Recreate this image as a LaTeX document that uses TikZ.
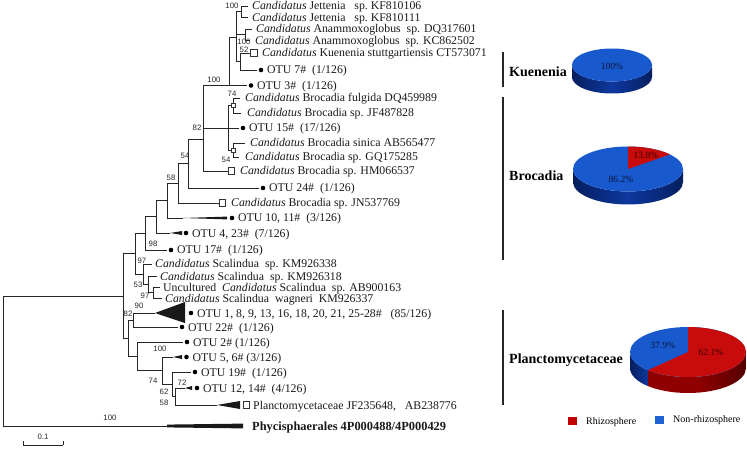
\documentclass[tikz,border=0pt]{standalone}
\usepackage{fontspec}
\setmainfont{Liberation Serif}
\newfontfamily\arialf{Liberation Sans}
\definecolor{btop}{RGB}{24,90,205}
\definecolor{bside}{RGB}{14,56,158}
\definecolor{bsided}{RGB}{6,30,95}
\definecolor{rtop}{RGB}{200,12,12}
\definecolor{rside}{RGB}{145,0,0}
\definecolor{rsided}{RGB}{85,0,0}
\definecolor{legred}{RGB}{192,0,0}
\definecolor{legblue}{RGB}{30,100,210}
\begin{document}
\begin{tikzpicture}[x=1pt,y=-1pt,
 br/.style={draw=black!85, line width=0.7pt},
 wdg/.style={fill=black!90},
 lf/.style={anchor=base west, inner sep=0pt, font=\fontsize{11.8}{13}\selectfont, text=black!90},
 supp/.style={inner sep=0pt, font=\arialf\fontsize{7.8}{8}\selectfont, text=black!85},
 dotm/.style={circle, fill=black, inner sep=0pt, minimum size=4.6pt},
 boxm/.style={rectangle, draw=black!80, fill=white, line width=0.6pt, inner sep=0pt, minimum size=6.5pt},
 nbox/.style={rectangle, draw=black!80, fill=white, line width=0.5pt, inner sep=0pt, minimum size=4pt},
 grp/.style={anchor=west, inner sep=0pt, font=\fontsize{14}{16}\selectfont\bfseries},
 gbar/.style={draw=black!85, line width=1.6pt},
 pctb/.style={inner sep=0pt, font=\fontsize{9.5}{10}\selectfont, text={rgb,255:red,10;green,20;blue,60}},
 pctr/.style={inner sep=0pt, font=\fontsize{9.5}{10}\selectfont, text={rgb,255:red,60;green,0;blue,0}},
 leg/.style={anchor=west, inner sep=0pt, font=\fontsize{10}{11}\selectfont}
]
\useasboundingbox (0,0) rectangle (747,449);
% ---------- tips
\coordinate (t1) at (248,6);
\coordinate (t2) at (248,17.5);
\coordinate (t3) at (252,29);
\coordinate (t4) at (250,40.5);
\coordinate (t5) at (250,53);
\coordinate (t6) at (257,70);
\coordinate (t7) at (247,85.5);
\coordinate (t8) at (240,98);
\coordinate (t9) at (241,113);
\coordinate (t10) at (239,128);
\coordinate (t11) at (245,143);
\coordinate (t12) at (239,157);
\coordinate (t13) at (227.5,171);
\coordinate (t14) at (259,188);
\coordinate (t15) at (218.5,203);
\coordinate (t16) at (183,218);
\coordinate (t17) at (170,233);
\coordinate (t18) at (167,250);
\coordinate (t19) at (152,264);
\coordinate (t20) at (157,276);
\coordinate (t21) at (160,287);
\coordinate (t22) at (162,298);
\coordinate (t23) at (155,313);
\coordinate (t24) at (178,327);
\coordinate (t25) at (183,342);
\coordinate (t26) at (173,357);
\coordinate (t27) at (191,372);
\coordinate (t28) at (185,388);
\coordinate (t29) at (217,405);
\coordinate (t30) at (167,426);
% ---------- internal nodes
\coordinate (J) at (241,11.75);
\coordinate (A) at (245,34.75);
\coordinate (K2) at (240,61.5);
\coordinate (K1) at (236,37);
\coordinate (KC) at (229,85.5);
\coordinate (Bc) at (228,128);
\coordinate (B1) at (233,105.5);
\coordinate (B2) at (233,150);
\coordinate (Y) at (203,107);
\coordinate (X) at (203,139);
\coordinate (N54) at (188,163.5);
\coordinate (N58) at (178,183.25);
\coordinate (N167) at (167,200.6);
\coordinate (N155) at (156,216.8);
\coordinate (N145) at (145,233.4);
\coordinate (S3) at (153,292.5);
\coordinate (S2) at (148,284.25);
\coordinate (S) at (143,274);
\coordinate (U) at (135,253.7);
\coordinate (N82) at (133,320);
\coordinate (P5) at (175,396.5);
\coordinate (P4) at (172,384.25);
\coordinate (P3) at (162,370.6);
\coordinate (P2) at (137,356.3);
\coordinate (P1) at (128,338.2);
\coordinate (I) at (123,296);
\coordinate (R) at (3,361);
% ---------- branches
\foreach \p/\a/\b/\kids in {J/t1/t2/{t1,t2}, A/t3/t4/{t3,t4}, K2/t5/t6/{t5,t6},
  K1/J/K2/{J,A,K2}, KC/K1/t7/{K1,t7}, B1/t8/t9/{t8,t9}, B2/t11/t12/{t11,t12},
  Bc/B1/B2/{B1,t10,B2}, Y/KC/Bc/{KC,Bc}, X/Y/t13/{Y,t13}, N54/X/t14/{X,t14},
  N58/N54/t15/{N54,t15}, N167/N58/t16/{N58,t16}, N155/N167/t17/{N167,t17},
  N145/N155/t18/{N155,t18}, S3/t21/t22/{t21,t22}, S2/t20/S3/{t20,S3},
  S/t19/S2/{t19,S2}, U/N145/S/{N145,S}, N82/t23/t24/{t23,t24},
  P5/t28/t29/{t28,t29}, P4/t27/P5/{t27,P5}, P3/t26/P4/{t26,P4},
  P2/t25/P3/{t25,P3}, P1/N82/P2/{N82,P2}, I/U/P1/{U,P1}, R/I/t30/{I,t30}}{
  \draw[br] (\a -| \p) -- (\b -| \p);
  \foreach \c in \kids {\draw[br] (\c -| \p) -- (\c);}
}
% ---------- collapsed wedges
\fill[wdg] (t16) -- (227,216.6) -- (227,219.4) -- cycle;
\fill[wdg] (t17) -- (182,231) -- (182,235) -- cycle;
\fill[wdg] (t23) -- (185,302) -- (185,323) -- cycle;
\fill[wdg] (t26) -- (182,355) -- (182,359) -- cycle;
\fill[wdg] (t28) -- (192,386) -- (192,390) -- cycle;
\fill[wdg] (t29) -- (240,401) -- (240,409) -- cycle;
\fill[wdg] (t30) -- (167,424.6) -- (243,423.6) -- (243,428.4) -- (167,427.4) -- cycle;
% node boxes
\node[nbox] (nb1) at (B1) {};
\node[nbox] (nb2) at (B2) {};
% ---------- leaf markers and labels
\node[lf] (L1) at (252,10) {\textit{Candidatus} Jettenia\ \ \ sp.\ KF810106};
\node[lf] (L2) at (252,21.5) {\textit{Candidatus} Jettenia\ \ \ sp.\ KF810111};
\node[lf] (L3) at (256,33) {\textit{Candidatus} Anammoxoglobus\ \ sp. DQ317601};
\node[lf] (L4) at (255,44.5) {\textit{Candidatus} Anammoxoglobus\ \ sp. KC862502};
\node[boxm] (m5) at (254,53) {};
\node[lf] (L5) at (262,57) {\textit{Candidatus} Kuenenia stuttgartiensis CT573071};
\node[dotm] (m6) at (261,70) {};
\node[lf] (L6) at (267,74) {OTU 7\#\ \ (1/126)};
\node[dotm] (m7) at (251,85.5) {};
\node[lf] (L7) at (257,89.5) {OTU 3\#\ \ (1/126)};
\node[lf] (L8) at (245,102) {\textit{Candidatus} Brocadia fulgida DQ459989};
\node[lf] (L9) at (247,117) {\textit{Candidatus} Brocadia sp. JF487828};
\node[dotm] (m10) at (243,128) {};
\node[lf] (L10) at (249,132) {OTU 15\#\ \ (17/126)};
\node[lf] (L11) at (250,147) {\textit{Candidatus} Brocadia sinica AB565477};
\node[lf] (L12) at (245,161) {\textit{Candidatus} Brocadia sp. GQ175285};
\node[boxm] (m13) at (231.5,171) {};
\node[lf] (L13) at (240,175) {\textit{Candidatus} Brocadia sp. HM066537};
\node[dotm] (m14) at (263,188) {};
\node[lf] (L14) at (269,192) {OTU 24\#\ \ (1/126)};
\node[boxm] (m15) at (222.5,203) {};
\node[lf] (L15) at (231,207) {\textit{Candidatus} Brocadia sp. JN537769};
\node[dotm] (m16) at (232,218) {};
\node[lf] (L16) at (238,222) {OTU 10, 11\#\ \ (3/126)};
\node[dotm] (m17) at (186,233) {};
\node[lf] (L17) at (192,237) {OTU 4, 23\#\ \ (7/126)};
\node[dotm] (m18) at (171,250) {};
\node[lf] (L18) at (177,254) {OTU 17\#\ \ (1/126)};
\node[lf] (L19) at (155,268) {\textit{Candidatus} Scalindua\ \ sp. KM926338};
\node[lf] (L20) at (160,280) {\textit{Candidatus} Scalindua\ \ sp. KM926318};
\node[lf] (L21) at (163,291) {Uncultured\ \ \textit{Candidatus} Scalindua\ \ sp. AB900163};
\node[lf] (L22) at (165,302) {\textit{Candidatus} Scalindua\ \ wagneri\ \ KM926337};
\node[dotm] (m23) at (191,313) {};
\node[lf] (L23) at (197,317) {OTU 1, 8, 9, 13, 16, 18, 20, 21, 25-28\#\ \ \ (85/126)};
\node[dotm] (m24) at (182,327) {};
\node[lf] (L24) at (188,331) {OTU 22\#\ \ (1/126)};
\node[dotm] (m25) at (187,342) {};
\node[lf] (L25) at (193,346) {OTU 2\# (1/126)};
\node[dotm] (m26) at (186.5,357) {};
\node[lf] (L26) at (192.5,361) {OTU 5, 6\# (3/126)};
\node[dotm] (m27) at (195,372) {};
\node[lf] (L27) at (201,376) {OTU 19\#\ \ (1/126)};
\node[dotm] (m28) at (197,388) {};
\node[lf] (L28) at (203,392) {OTU 12, 14\#\ \ (4/126)};
\node[boxm] (m29) at (246.5,405) {};
\node[lf] (L29) at (253,409) {Planctomycetaceae JF235648,\ \ \ AB238776};
\node[lf, font=\fontsize{12.4}{13}\selectfont\bfseries] (L30) at (252,430) {Phycisphaerales 4P000488/4P000429};
% ---------- support values
\node[supp] (s1) at (232,6) {100};
\node[supp] (s2) at (244,42) {100};
\node[supp] (s3) at (244,50) {52};
\node[supp] (s4) at (214,80) {100};
\node[supp] (s5) at (232,94) {74};
\node[supp] (s6) at (226,160) {54};
\node[supp] (s7) at (197,128) {82};
\node[supp] (s8) at (185,156) {54};
\node[supp] (s9) at (171,178) {58};
\node[supp] (s10) at (153,244) {98};
\node[supp] (s11) at (142,261) {97};
\node[supp] (s12) at (138,285) {53};
\node[supp] (s13) at (145,296) {97};
\node[supp] (s14) at (139,306) {90};
\node[supp] (s15) at (128,314) {82};
\node[supp] (s16) at (160,349) {100};
\node[supp] (s17) at (153,381) {74};
\node[supp] (s18) at (182,383) {72};
\node[supp] (s19) at (164,392) {62};
\node[supp] (s20) at (164,403) {58};
\node[supp] (s21) at (110,418) {100};
% ---------- scale bar
\coordinate (sb1) at (23,445);
\coordinate (sb2) at (63,445);
\draw[br] (sb1) -- (sb2);
\draw[br] (sb1) -- ++(0,-4);
\draw[br] (sb2) -- ++(0,-4);
\node[supp] (sbl) at (43,437) {0.1};
% ---------- group bars and labels
\draw[gbar] (503,52) -- (503,87);
\draw[gbar] (503,97) -- (503,260);
\draw[gbar] (503,310) -- (503,405);
\node[grp] (gK) at (509,72) {Kuenenia};
\node[grp] (gB) at (509,176) {Brocadia};
\node[grp] (gP) at (509,360) {Planctomycetaceae};
% ---------- pie: Kuenenia
\begin{scope}[shift={(612,65)}, y=1pt]
 \shade[left color=bsided, right color=bsided, middle color=bside] (-40,0) arc[start angle=180,end angle=360,x radius=40,y radius=16.5] -- (40,-12) arc[start angle=0,end angle=-180,x radius=40,y radius=16.5] -- cycle;
 \fill[btop] (0,0) ellipse[x radius=40, y radius=16.5];
\end{scope}
\node[pctb] (pk) at (612,66) {100\%};
% ---------- pie: Brocadia
\begin{scope}[shift={(628,169)}, y=1pt]
 \shade[left color=bsided, right color=bsided, middle color=bside] (-55,0) arc[start angle=180,end angle=360,x radius=55,y radius=22.5] -- (55,-13) arc[start angle=0,end angle=-180,x radius=55,y radius=22.5] -- cycle;
 \fill[btop] (0,0) ellipse[x radius=55, y radius=22.5];
 \fill[rtop] (0,0) -- (0,22.5) arc[start angle=90,end angle=40.32,x radius=55,y radius=22.5] -- cycle;
\end{scope}
\node[pctr] (pb1) at (646,155) {13.8\%};
\node[pctb] (pb2) at (621,179) {86.2\%};
% ---------- pie: Planctomycetaceae
\begin{scope}[shift={(688,352)}, y=1pt]
 \shade[left color=bsided, right color=bside] (-58,0) arc[start angle=180,end angle=226.44,x radius=58,y radius=25] -- ++(0,-16) arc[start angle=226.44,end angle=180,x radius=58,y radius=25] -- cycle;
 \shade[left color=rside, right color=rsided, middle color=rside] (-39.99,-18.11) arc[start angle=226.44,end angle=360,x radius=58,y radius=25] -- (58,-16) arc[start angle=0,end angle=-133.56,x radius=58,y radius=25] -- cycle;
 \fill[btop] (0,0) ellipse[x radius=58, y radius=25];
 \fill[rtop] (0,0) -- (0,25) arc[start angle=90,end angle=-133.56,x radius=58,y radius=25] -- cycle;
\end{scope}
\node[pctb] (pp1) at (663,345) {37.9\%};
\node[pctr] (pp2) at (711,352) {62.1\%};
% ---------- legend
\node[rectangle, fill=legred, minimum width=9pt, minimum height=8pt, inner sep=0pt] (lr) at (572,421) {};
\node[leg] (lrt) at (586,422) {Rhizosphere};
\node[rectangle, fill=legblue, minimum width=9pt, minimum height=8pt, inner sep=0pt] (lb) at (659.5,420) {};
\node[leg] (lbt) at (673,420) {Non-rhizosphere};
\end{tikzpicture}
\end{document}
